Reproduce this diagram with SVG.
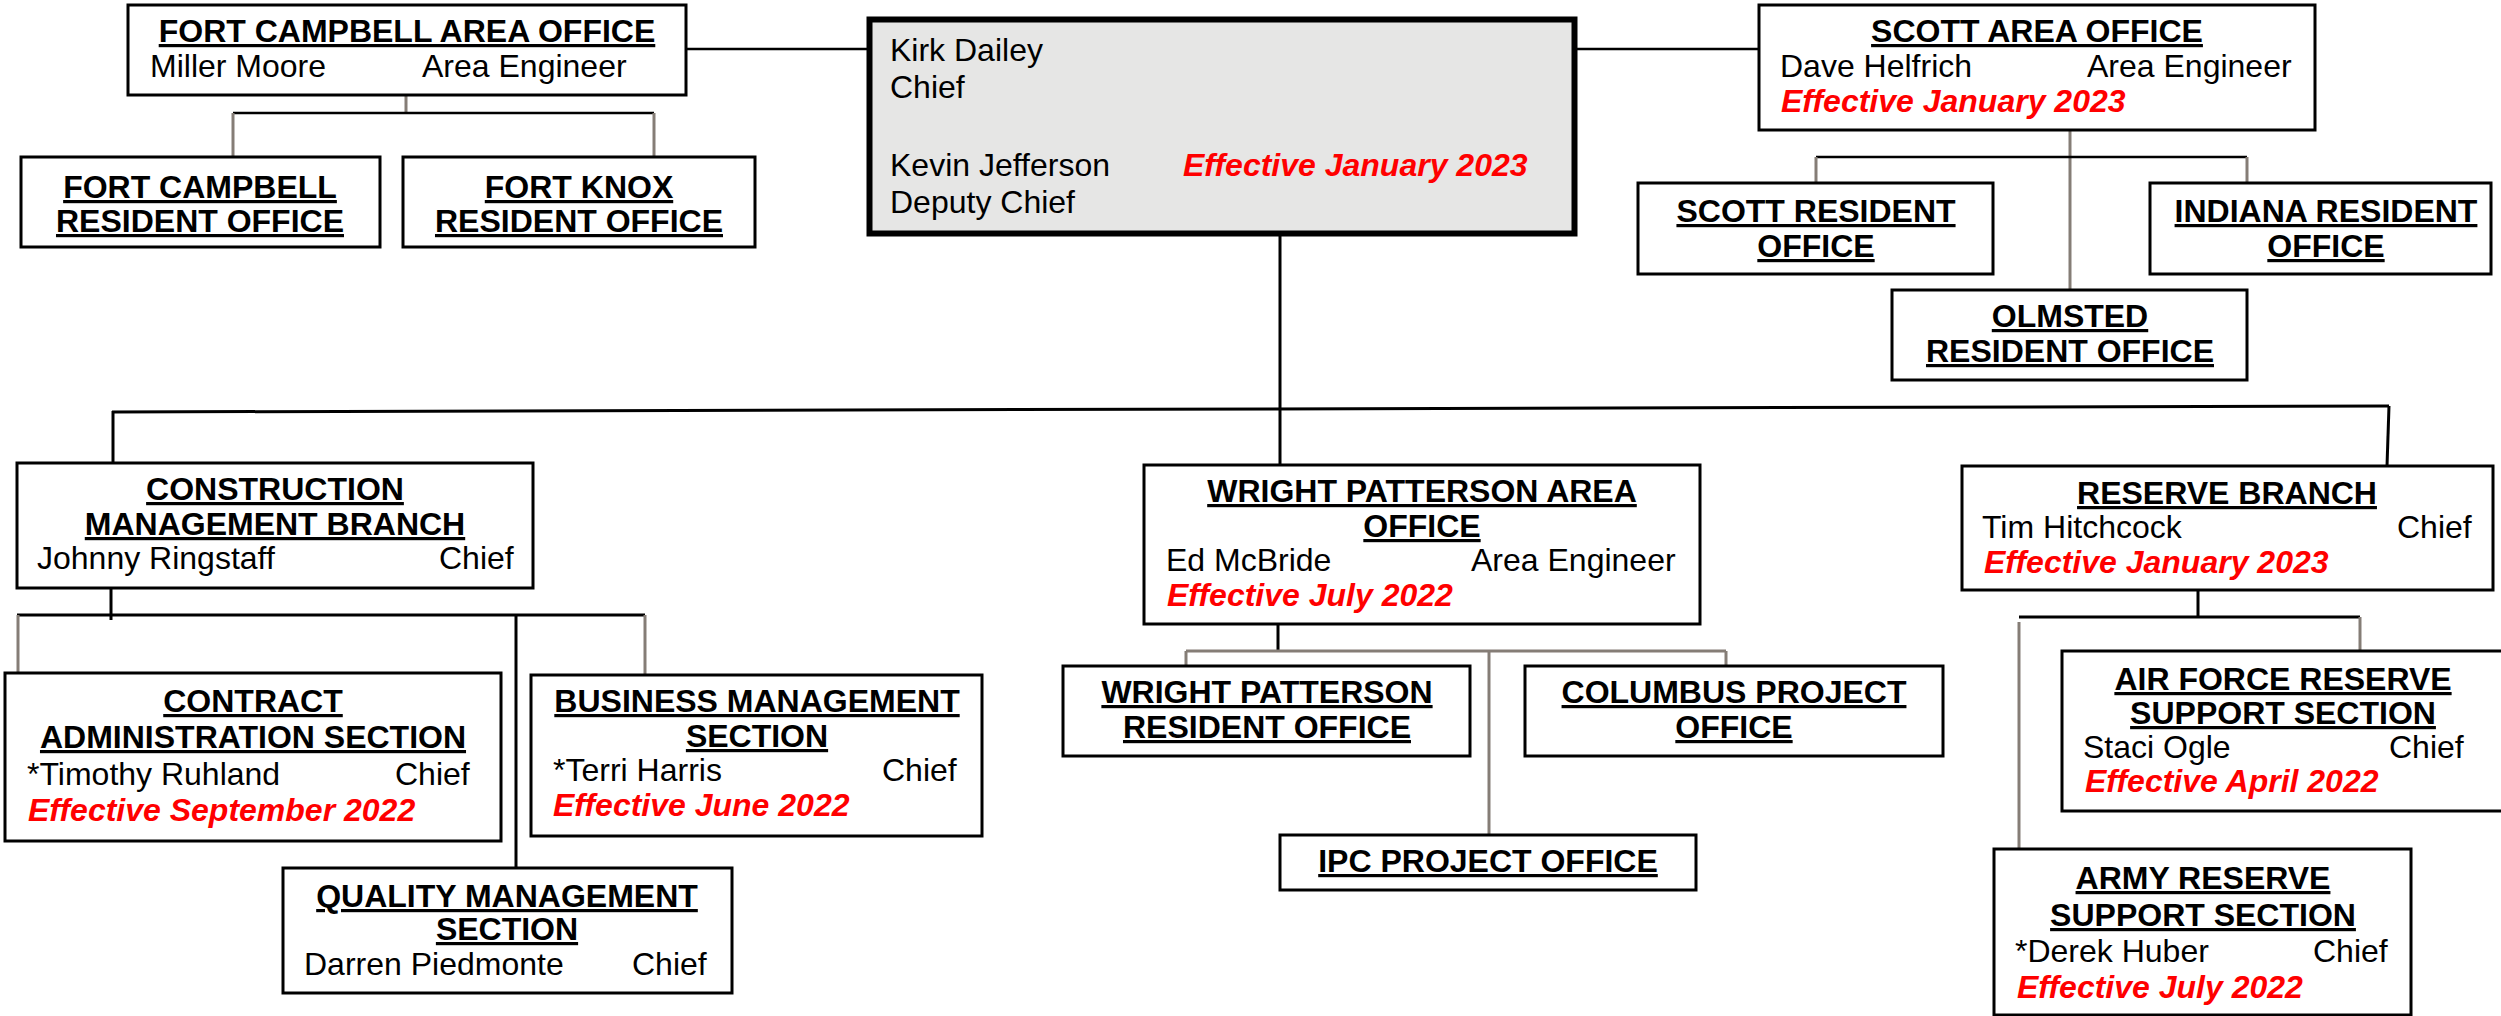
<svg xmlns="http://www.w3.org/2000/svg" width="2501" height="1016" viewBox="0 0 2501 1016">
<style>
.box{fill:#fff;stroke:#000;stroke-width:3}
.chief{fill:#e6e6e5;stroke:#000;stroke-width:6}
text{font-family:"Liberation Sans",Arial,sans-serif;font-size:32px;fill:#000}
.h{font-weight:bold;text-decoration:underline;text-anchor:middle}
.r{fill:#ff0000;font-weight:bold;font-style:italic}
.k{stroke:#000;stroke-width:3;fill:none}
.k2{stroke:#000;stroke-width:2.5;fill:none}
.g{stroke:#857d76;stroke-width:3;fill:none}
</style>
<rect width="2501" height="1016" fill="#fff"/>
<g id="connectors">
<line class="k2" x1="686" y1="49" x2="867" y2="49"/>
<line class="k2" x1="1577" y1="49" x2="1759" y2="49"/>
<line class="g" x1="406" y1="95" x2="406" y2="113"/>
<line class="k2" x1="233" y1="113" x2="654" y2="113"/>
<line class="g" x1="233" y1="113" x2="233" y2="157"/>
<line class="g" x1="654" y1="113" x2="654" y2="157"/>
<line class="g" x1="2070" y1="130" x2="2070" y2="290"/>
<line class="k2" x1="1816" y1="157" x2="2247" y2="157"/>
<line class="g" x1="1816" y1="157" x2="1816" y2="183"/>
<line class="g" x1="2247" y1="157" x2="2247" y2="183"/>
<line class="k" x1="1280" y1="236" x2="1280" y2="465"/>
<line class="k" x1="112" y1="412" x2="2389" y2="406"/>
<line class="k" x1="113" y1="411" x2="113" y2="463"/>
<line class="k" x1="2389" y1="406" x2="2387" y2="466"/>
<line class="k" x1="111" y1="588" x2="111" y2="620"/>
<line class="k" x1="17" y1="615" x2="645" y2="615"/>
<line class="g" x1="18" y1="615" x2="18" y2="673"/>
<line class="k" x1="516" y1="615" x2="516" y2="868"/>
<line class="g" x1="645" y1="615" x2="645" y2="675"/>
<line class="k" x1="1278" y1="624" x2="1278" y2="651"/>
<line class="g" x1="1186" y1="651" x2="1726" y2="651"/>
<line class="g" x1="1186" y1="651" x2="1186" y2="666"/>
<line class="g" x1="1489" y1="651" x2="1489" y2="835"/>
<line class="g" x1="1726" y1="651" x2="1726" y2="666"/>
<line class="k" x1="2198" y1="590" x2="2198" y2="617"/>
<line class="k" x1="2019" y1="617" x2="2360" y2="617"/>
<line class="g" x1="2019" y1="622" x2="2019" y2="849"/>
<line class="g" x1="2360" y1="617" x2="2360" y2="651"/>
</g>
<g id="fort-campbell-area-office">
<rect class="box" x="128" y="5" width="558" height="90"/>
<text class="h" x="407" y="42">FORT CAMPBELL AREA OFFICE</text>
<text x="150" y="77">Miller Moore</text>
<text x="422" y="77">Area Engineer</text>
</g>
<g id="fort-campbell-resident-office">
<rect class="box" x="21" y="157" width="359" height="90"/>
<text class="h" x="200" y="198">FORT CAMPBELL</text>
<text class="h" x="200" y="232">RESIDENT OFFICE</text>
</g>
<g id="fort-knox-resident-office">
<rect class="box" x="403" y="157" width="352" height="90"/>
<text class="h" x="579" y="198">FORT KNOX</text>
<text class="h" x="579" y="232">RESIDENT OFFICE</text>
</g>
<g id="chief">
<rect class="chief" x="869.5" y="19.5" width="705" height="214"/>
<text x="890" y="61">Kirk Dailey</text>
<text x="890" y="98">Chief</text>
<text x="890" y="176">Kevin Jefferson</text>
<text x="890" y="213">Deputy Chief</text>
<text class="r" x="1183" y="176">Effective January 2023</text>
</g>
<g id="scott-area-office">
<rect class="box" x="1759" y="5" width="556" height="125"/>
<text class="h" x="2037" y="42">SCOTT AREA OFFICE</text>
<text x="1780" y="77">Dave Helfrich</text>
<text x="2087" y="77">Area Engineer</text>
<text class="r" x="1781" y="112">Effective January 2023</text>
</g>
<g id="scott-resident-office">
<rect class="box" x="1638" y="183" width="355" height="91"/>
<text class="h" x="1816" y="222">SCOTT RESIDENT</text>
<text class="h" x="1816" y="257">OFFICE</text>
</g>
<g id="indiana-resident-office">
<rect class="box" x="2150" y="183" width="341" height="91"/>
<text class="h" x="2326" y="222">INDIANA RESIDENT</text>
<text class="h" x="2326" y="257">OFFICE</text>
</g>
<g id="olmsted-resident-office">
<rect class="box" x="1892" y="290" width="355" height="90"/>
<text class="h" x="2070" y="327">OLMSTED</text>
<text class="h" x="2070" y="362">RESIDENT OFFICE</text>
</g>
<g id="construction-management-branch">
<rect class="box" x="17" y="463" width="516" height="125"/>
<text class="h" x="275" y="500">CONSTRUCTION</text>
<text class="h" x="275" y="535">MANAGEMENT BRANCH</text>
<text x="37" y="569">Johnny Ringstaff</text>
<text x="439" y="569">Chief</text>
</g>
<g id="contract-administration-section">
<rect class="box" x="5" y="673" width="496" height="168"/>
<text class="h" x="253" y="712">CONTRACT</text>
<text class="h" x="253" y="748">ADMINISTRATION SECTION</text>
<text x="27" y="785">*Timothy Ruhland</text>
<text x="395" y="785">Chief</text>
<text class="r" x="28" y="821">Effective September 2022</text>
</g>
<g id="business-management-section">
<rect class="box" x="531" y="675" width="451" height="161"/>
<text class="h" x="757" y="712">BUSINESS MANAGEMENT</text>
<text class="h" x="757" y="747">SECTION</text>
<text x="553" y="781">*Terri Harris</text>
<text x="882" y="781">Chief</text>
<text class="r" x="553" y="816">Effective June 2022</text>
</g>
<g id="quality-management-section">
<rect class="box" x="283" y="868" width="449" height="125"/>
<text class="h" x="507" y="907">QUALITY MANAGEMENT</text>
<text class="h" x="507" y="940">SECTION</text>
<text x="304" y="975">Darren Piedmonte</text>
<text x="632" y="975">Chief</text>
</g>
<g id="wright-patterson-area-office">
<rect class="box" x="1144" y="465" width="556" height="159"/>
<text class="h" x="1422" y="502">WRIGHT PATTERSON AREA</text>
<text class="h" x="1422" y="537">OFFICE</text>
<text x="1166" y="571">Ed McBride</text>
<text x="1471" y="571">Area Engineer</text>
<text class="r" x="1167" y="606">Effective July 2022</text>
</g>
<g id="wright-patterson-resident-office">
<rect class="box" x="1063" y="666" width="407" height="90"/>
<text class="h" x="1267" y="703">WRIGHT PATTERSON</text>
<text class="h" x="1267" y="738">RESIDENT OFFICE</text>
</g>
<g id="columbus-project-office">
<rect class="box" x="1525" y="666" width="418" height="90"/>
<text class="h" x="1734" y="703">COLUMBUS PROJECT</text>
<text class="h" x="1734" y="738">OFFICE</text>
</g>
<g id="ipc-project-office">
<rect class="box" x="1280" y="835" width="416" height="55"/>
<text class="h" x="1488" y="872">IPC PROJECT OFFICE</text>
</g>
<g id="reserve-branch">
<rect class="box" x="1962" y="466" width="531" height="124"/>
<text class="h" x="2227" y="504">RESERVE BRANCH</text>
<text x="1982" y="538">Tim Hitchcock</text>
<text x="2397" y="538">Chief</text>
<text class="r" x="1984" y="573">Effective January 2023</text>
</g>
<g id="air-force-reserve-support-section">
<rect class="box" x="2062" y="651" width="460" height="160"/>
<text class="h" x="2283" y="690">AIR FORCE RESERVE</text>
<text class="h" x="2283" y="724">SUPPORT SECTION</text>
<text x="2083" y="758">Staci Ogle</text>
<text x="2389" y="758">Chief</text>
<text class="r" x="2085" y="792">Effective April 2022</text>
</g>
<g id="army-reserve-support-section">
<rect class="box" x="1994" y="849" width="417" height="166"/>
<text class="h" x="2203" y="889">ARMY RESERVE</text>
<text class="h" x="2203" y="926">SUPPORT SECTION</text>
<text x="2015" y="962">*Derek Huber</text>
<text x="2313" y="962">Chief</text>
<text class="r" x="2017" y="998">Effective July 2022</text>
</g>
</svg>
